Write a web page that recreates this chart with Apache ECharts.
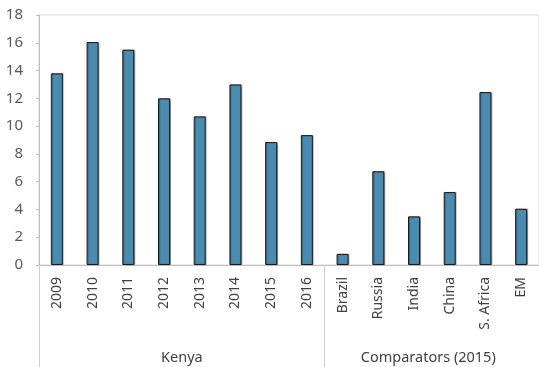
<!DOCTYPE html>
<html>
<head>
<meta charset="utf-8">
<script src="https://cdn.jsdelivr.net/npm/echarts@6/dist/echarts.min.js"></script>
<style>
  html, body { margin: 0; padding: 0; background: #fff; }
  #chart { width: 539px; height: 367px; }
</style>
</head>
<body>
<div id="chart"></div>
<script>
// categories and values
const categories = ['2009', '2010', '2011', '2012', '2013', '2014', '2015', '2016',
  'Brazil', 'Russia', 'India', 'China', 'S. Africa', 'EM'];
const values = [13.8, 16.05, 15.5, 12.0, 10.7, 13.0, 8.85, 9.35,
  0.8, 6.75, 3.5, 5.25, 12.45, 4.05];
const yTicks = [0, 2, 4, 6, 8, 10, 12, 14, 16, 18];

// groups along the category axis
const groupNames = ['Kenya', 'Comparators (2015)'];
const groupBounds = [0, 8, 14];
const groupCenters = [4, 10.9];

const chart = echarts.init(document.getElementById('chart'));
const font = '"Noto Sans", sans-serif';

const option = {
  animation: false,
  grid: {
    left: 39,
    right: -3,
    top: 15,
    bottom: 102,
    show: true,
    borderColor: '#d9d9d9',
    borderWidth: 1
  },
  xAxis: [
    {
      type: 'category',
      data: categories,
      axisLine: { lineStyle: { color: '#bfbfbf' } },
      axisTick: { interval: 0, length: 70, lineStyle: { color: '#d0d0d0' } },
      axisLabel: {
        interval: 0,
        rotate: 90,
        margin: 12,
        color: '#404040',
        fontSize: 14,
        fontFamily: font
      }
    },
    {
      type: 'value',
      position: 'bottom',
      min: 0,
      max: 14,
      axisLine: { show: false },
      splitLine: { show: false },
      axisTick: {
        show: true,
        customValues: groupBounds,
        length: 102,
        lineStyle: { color: '#d0d0d0' }
      },
      axisLabel: {
        customValues: groupCenters,
        margin: 85,
        color: '#404040',
        fontSize: 14.5,
        fontFamily: font,
        formatter: function (v) {
          return groupNames[groupCenters.indexOf(v)];
        }
      }
    }
  ],
  yAxis: {
    type: 'value',
    min: yTicks[0],
    max: yTicks[yTicks.length - 1],
    interval: 2,
    axisLine: { show: true, lineStyle: { color: '#bfbfbf' } },
    axisTick: { show: true, length: 3, lineStyle: { color: '#bfbfbf' } },
    splitLine: { show: false },
    axisLabel: {
      margin: 16,
      color: '#595959',
      fontSize: 15,
      fontFamily: font
    }
  },
  series: [
    {
      type: 'bar',
      xAxisIndex: 0,
      data: values,
      barWidth: 12,
      itemStyle: {
        color: '#4a8bb0',
        borderColor: '#1a1a1a',
        borderWidth: 1,
        shadowColor: 'rgba(0,0,0,0.3)',
        shadowOffsetX: 1,
        shadowBlur: 1
      }
    }
  ]
};

chart.setOption(option);
</script>
</body>
</html>
